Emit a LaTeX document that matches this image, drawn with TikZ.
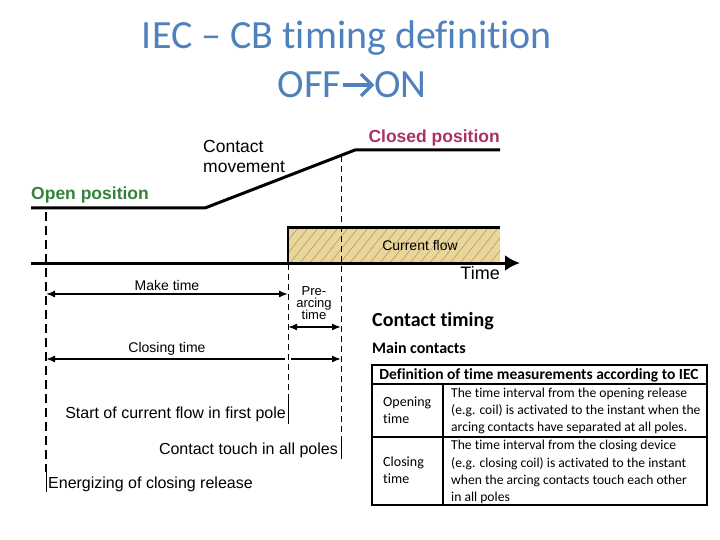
\documentclass[tikz,border=0pt]{standalone}
\usepackage{fontspec}
\setmainfont{Liberation Sans}
\newfontfamily\calfont[Ligatures=NoCommon]{Carlito}
\usetikzlibrary{arrows.meta}
\definecolor{titleblue}{RGB}{79,129,189}
\definecolor{opengreen}{RGB}{52,130,58}
\definecolor{closedmag}{RGB}{168,50,100}
\definecolor{currtan}{RGB}{234,214,152}
\definecolor{hatchgray}{RGB}{150,140,110}
\begin{document}
\begin{tikzpicture}[x=1pt,y=-1pt,
  lbl/.style={inner sep=0pt, font=\fontsize{#1}{#1}\selectfont},
  tbl/.style={inner sep=0pt, font=\calfont\fontsize{#1}{#1}\selectfont},
  thickdash/.style={line width=2pt, dash pattern=on 9pt off 5pt},
  thindash/.style={line width=0.8pt, dash pattern=on 6pt off 4pt},
  dim/.style={line width=1.6pt, {Latex[length=9pt,width=7pt]}-{Latex[length=9pt,width=7pt]}},
  dimL/.style={line width=1.6pt, {Latex[length=9pt,width=7pt]}-},
  dimR/.style={line width=1.6pt, -{Latex[length=9pt,width=7pt]}}]
\useasboundingbox (0,0) rectangle (720,540);
% title
\node[tbl=40, anchor=base, text=titleblue] (t1) at (347,49) {IEC – CB timing definition};
\node[tbl=40, anchor=base east, text=titleblue] (off) at (341,98) {OFF};
\node[tbl=40, anchor=base west, text=titleblue] (on) at (374,98) {ON};
\coordinate (ta) at (343,85);
\coordinate (tb) at (372,85);
\draw[titleblue, line width=3.2pt] (ta) -- (tb);
\draw[titleblue, line width=3.2pt, line join=miter] ([xshift=-11pt,yshift=-11pt]tb) -- (tb) -- ([xshift=-11pt,yshift=11pt]tb);
% coordinates
\coordinate (o1) at (31,208);
\coordinate (o2) at (205,208);
\coordinate (c1) at (355,150);
\coordinate (c2) at (500,150);
\coordinate (ax1) at (31,263);
\coordinate (ax2) at (520,263);
% current flow box
\fill[currtan] (288,228) rectangle (500,263);
\begin{scope}
\clip (288,228) rectangle (500,263);
\foreach \i in {0,...,26} {
  \draw[hatchgray, line width=0.4pt] (270+\i*10,263) -- ++(28,-35);
}
\end{scope}
\draw[line width=2pt] (288,263) -- (288,228);
\draw[line width=3pt] (287,228) -- (500,228);
\node[lbl=14] (cf) at (420,245) {Current flow};
% contact movement
\draw[line width=3pt, line join=round] (o1) -- (o2) -- (c1) -- (c2);
\node[lbl=17.5, font=\bfseries\fontsize{17.5}{17.5}\selectfont, text=opengreen, anchor=base west] (op) at (31,200) {Open position};
\node[lbl=17.5, font=\bfseries\fontsize{17.5}{17.5}\selectfont, text=closedmag, anchor=base east] (cp) at (500,143) {Closed position};
\node[lbl=17.5, anchor=base west] (cm1) at (203,153) {Contact};
\node[lbl=17.5, anchor=base west] (cm2) at (203,173) {movement};
% time axis
\draw[line width=3pt, -{Latex[length=15pt,width=16pt]}] (ax1) -- (ax2);
\node[lbl=18, anchor=base east] (tm) at (500,279) {Time};
% vertical lines
\coordinate (v1a) at (46,212);
\coordinate (v1b) at (46,472);
\coordinate (v1c) at (46,492);
\draw[thickdash] (v1a) -- (v1b);
\draw[line width=1pt] (v1b) -- (v1c);
\coordinate (v2a) at (288,264);
\coordinate (v2b) at (288,400);
\coordinate (v2c) at (288,424);
\draw[thindash] (v2a) -- (v2b);
\draw[line width=1pt] (v2b) -- (v2c);
\coordinate (v3a) at (341,156);
\coordinate (v3b) at (341,436);
\coordinate (v3c) at (341,459);
\draw[thindash] (v3a) -- (v3b);
\draw[line width=1pt] (v3b) -- (v3c);
% dimension arrows
\coordinate (m1) at (46,294);
\coordinate (m2) at (288,294);
\draw[dim] (m1) -- (m2);
\node[lbl=14, anchor=base] (mt) at (167,290) {Make time};
\coordinate (p1) at (288,327);
\coordinate (p2) at (341,327);
\draw[dim] (p1) -- (p2);
\node[lbl=13, anchor=base] (pa1) at (314,295) {Pre-};
\node[lbl=13, anchor=base] (pa2) at (314,307) {arcing};
\node[lbl=13, anchor=base] (pa3) at (314,319) {time};
\coordinate (k1) at (46,359);
\coordinate (k2) at (285,359);
\coordinate (k3) at (291,359);
\coordinate (k4) at (341,359);
\draw[dimL] (k1) -- (k2);
\draw[dimR] (k3) -- (k4);
\node[lbl=14, anchor=base] (ct) at (167,352) {Closing time};
\node[lbl=16, anchor=base east] (sc) at (286,418) {Start of current flow in first pole};
\node[lbl=16, anchor=base east] (tp) at (338,454) {Contact touch in all poles};
\node[lbl=16, anchor=base west] (en) at (48,488) {Energizing of closing release};
% contact timing
\node[tbl=20, font=\calfont\bfseries\fontsize{20}{20}\selectfont, anchor=base west] (ctg) at (372,326) {Contact timing};
\node[tbl=16, font=\calfont\bfseries\fontsize{16}{16}\selectfont, anchor=base west] (mc) at (372,353) {Main contacts};
% table
\draw[line width=1.8pt] (372,365) rectangle (707,505);
\draw[line width=1.2pt] (372,384) -- (707,384);
\draw[line width=1.2pt] (372,437) -- (707,437);
\draw[line width=1.2pt] (443,384) -- (443,505);
\node[tbl=15.5, font=\calfont\bfseries\fontsize{15.5}{15.5}\selectfont] (th) at (539,375) {Definition of time measurements according to IEC};
\node[tbl=14, anchor=base west] (r1a) at (383,406) {Opening};
\node[tbl=14, anchor=base west] (r1b) at (383,423) {time};
\node[tbl=13.6, anchor=base west] (d1a) at (451,397) {The time interval from the opening release};
\node[tbl=13.6, anchor=base west] (d1b) at (451,414) {(e.g. coil) is activated to the instant when the};
\node[tbl=13.6, anchor=base west] (d1c) at (451,431) {arcing contacts have separated at all poles.};
\node[tbl=14, anchor=base west] (r2a) at (383,466) {Closing};
\node[tbl=14, anchor=base west] (r2b) at (383,483) {time};
\node[tbl=13.6, anchor=base west] (d2a) at (451,449) {The time interval from the closing device};
\node[tbl=13.6, anchor=base west] (d2b) at (451,467) {(e.g. closing coil) is activated to the instant};
\node[tbl=13.6, anchor=base west] (d2c) at (451,484) {when the arcing contacts touch each other};
\node[tbl=13.6, anchor=base west] (d2d) at (451,501) {in all poles};
\end{tikzpicture}
\end{document}
